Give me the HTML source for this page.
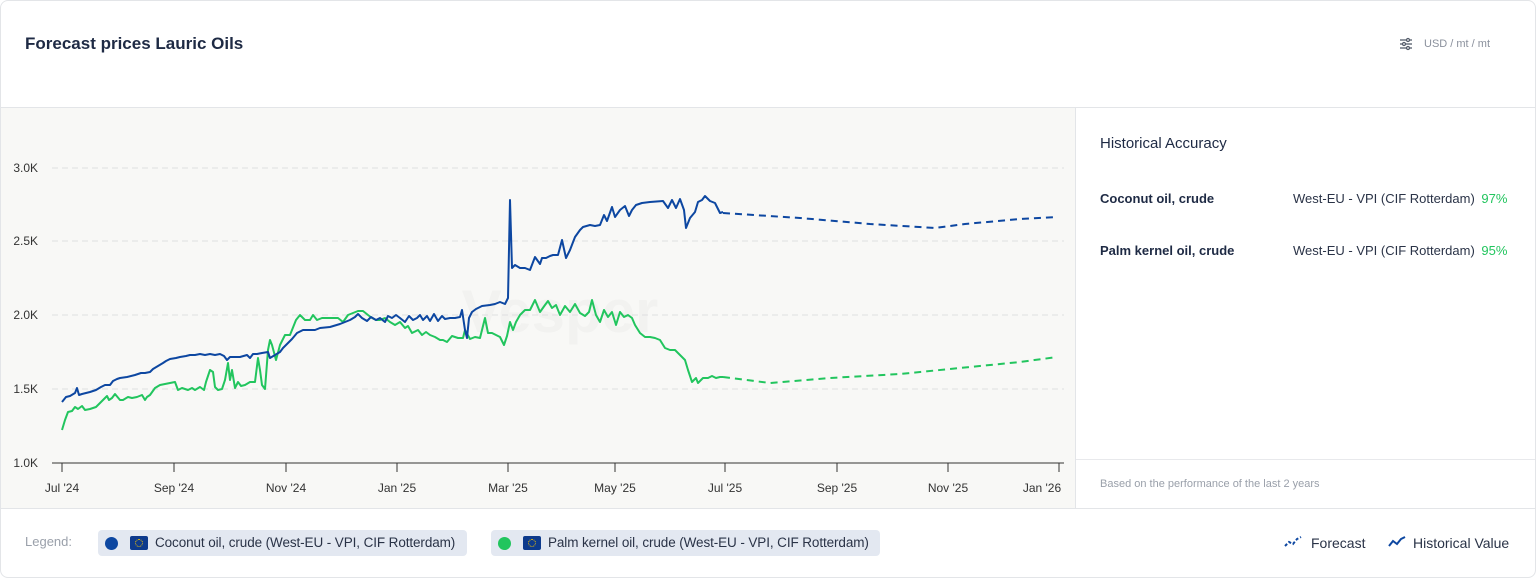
<!DOCTYPE html>
<html><head><meta charset="utf-8"><style>
*{margin:0;padding:0;box-sizing:border-box}
body{width:1536px;height:578px;background:#fff;font-family:"Liberation Sans",sans-serif;position:relative;overflow:hidden;color:#1e2a44}
.card{position:absolute;left:0;top:0;width:1536px;height:578px;border:1px solid #e3e5e8;border-radius:8px}
.t{position:absolute;white-space:nowrap}
</style></head><body>
<div class="card"></div>
<div class="t" style="left:25px;top:34px;font-size:17px;font-weight:bold;color:#1e2a44">Forecast prices Lauric Oils</div>
<svg class="t" style="left:1399px;top:37px" width="14" height="14" viewBox="0 0 14 14"><g stroke="#555d6b" stroke-width="1.3" fill="#fff"><line x1="1" y1="3" x2="13" y2="3"/><line x1="1" y1="7" x2="13" y2="7"/><line x1="1" y1="11" x2="13" y2="11"/><circle cx="9" cy="3" r="1.5"/><circle cx="5" cy="7" r="1.5"/><circle cx="9" cy="11" r="1.5"/></g></svg>
<div class="t" style="left:1424px;top:38px;font-size:11px;color:#8a909c">USD / mt / mt</div>
<div style="position:absolute;left:1px;top:107px;width:1534px;height:1px;background:#e3e5e8"></div>
<div style="position:absolute;left:1px;top:108px;width:1074px;height:400px;background:#f8f8f6"></div>
<div style="position:absolute;left:1075px;top:108px;width:1px;height:400px;background:#e3e5e8"></div>
<div style="position:absolute;left:1076px;top:459px;width:459px;height:1px;background:#e8e9ec"></div>
<div style="position:absolute;left:1px;top:508px;width:1534px;height:1px;background:#e3e5e8"></div>
<svg class="t" style="left:0;top:0" width="1076" height="508">
<text x="560" y="332" font-size="60" font-weight="bold" fill="#f2f2f0" font-family="Liberation Sans" text-anchor="middle">Vesper</text>
<g stroke="#dedfe0" stroke-dasharray="6,4" stroke-width="1">
<line x1="52" y1="168" x2="1064" y2="168"/><line x1="52" y1="241" x2="1064" y2="241"/><line x1="52" y1="315" x2="1064" y2="315"/><line x1="52" y1="389" x2="1064" y2="389"/></g>
<line x1="52" y1="463" x2="1064" y2="463" stroke="#333" stroke-width="1"/>
<g stroke="#333"><line x1="62" y1="463" x2="62" y2="472"/><line x1="174" y1="463" x2="174" y2="472"/><line x1="286" y1="463" x2="286" y2="472"/><line x1="397" y1="463" x2="397" y2="472"/><line x1="508" y1="463" x2="508" y2="472"/><line x1="615" y1="463" x2="615" y2="472"/><line x1="725" y1="463" x2="725" y2="472"/><line x1="837" y1="463" x2="837" y2="472"/><line x1="948" y1="463" x2="948" y2="472"/><line x1="1059" y1="463" x2="1059" y2="472"/></g>
<g font-size="12" fill="#333" font-family="Liberation Sans" text-anchor="end">
<text x="38" y="172">3.0K</text><text x="38" y="245">2.5K</text><text x="38" y="319">2.0K</text><text x="38" y="393">1.5K</text><text x="38" y="467">1.0K</text></g>
<g font-size="12" fill="#333" font-family="Liberation Sans" text-anchor="middle">
<text x="62" y="492">Jul '24</text><text x="174" y="492">Sep '24</text><text x="286" y="492">Nov '24</text><text x="397" y="492">Jan '25</text><text x="508" y="492">Mar '25</text><text x="615" y="492">May '25</text><text x="725" y="492">Jul '25</text><text x="837" y="492">Sep '25</text><text x="948" y="492">Nov '25</text><text x="1042" y="492">Jan '26</text></g>
<polyline fill="none" stroke="#22c55e" stroke-width="2" stroke-linejoin="round" points="62,430 65,420 68,412 72,411 75,407 78,409 82,406 85,410 90,409 96,407 100,403 104,399 107,396 109,400 112,398 115,394 120,400 123,400 128,397 132,398 137,397 142,395 145,400 147,397 150,395 155,388 160,385 165,384 170,383 175,382 178,390 182,388 188,390 192,388 195,390 200,387 204,390 206,382 210,370 213,372 215,387 218,390 222,389 225,380 228,363 230,380 232,370 235,388 238,382 241,386 245,385 250,382 255,382 258,358 260,370 262,385 265,389 268,350 270,340 272,345 276,360 280,345 285,335 290,335 296,320 300,315 305,320 310,320 313,315 317,320 322,318 330,318 338,318 343,322 348,315 353,313 358,311 363,311 368,315 372,318 376,320 380,320 385,318 390,322 395,325 400,322 405,328 408,326 412,333 418,330 422,335 426,332 430,335 435,337 440,340 443,340 447,342 452,336 458,338 463,338 465,330 470,339 475,337 480,338 485,318 488,333 492,333 496,335 500,337 504,345 507,336 510,322 513,330 516,322 520,315 525,310 530,310 535,300 540,312 545,305 548,301 552,308 556,305 560,315 565,306 570,312 575,304 580,313 585,316 589,312 592,300 596,315 600,322 604,310 608,317 612,312 616,325 620,312 624,317 628,315 632,318 635,325 640,333 645,337 650,337 655,338 660,340 665,348 670,350 675,350 680,355 685,360 688,370 692,382 696,378 698,383 703,378 708,378 712,376 716,378 720,377 723,377"/>
<polyline fill="none" stroke="#22c55e" stroke-width="2" stroke-dasharray="7,5" points="723,377 770,383 830,378 900,374 960,368 1020,362 1057,357"/>
<polyline fill="none" stroke="#0d47a1" stroke-width="2" stroke-linejoin="round" points="62,402 66,397 70,396 75,393 77,388 79,395 82,394 90,392 96,390 101,387 105,385 110,385 113,381 117,379 120,378 127,377 135,375 141,373 145,373 150,372 153,369 158,366 163,363 166,361 170,359 176,358 180,357 186,356 190,355 195,355 200,354 205,355 210,354 215,355 220,354 224,356 227,360 230,357 235,357 240,357 247,355 250,358 253,354 257,354 262,353 268,352 270,358 275,355 280,352 283,348 288,343 292,339 297,333 303,330 310,330 315,330 320,328 330,327 340,324 345,322 350,320 355,317 358,314 362,318 367,321 371,317 376,320 380,318 385,322 388,316 392,318 396,315 400,318 405,322 409,316 413,320 417,318 420,315 423,320 427,316 430,321 434,314 438,321 442,316 445,319 450,318 455,318 460,317 462,310 465,330 467,338 469,318 472,312 476,309 482,306 490,305 495,304 500,302 505,304 508,298 510,200 512,268 515,265 520,268 525,268 530,270 535,257 540,264 542,258 546,258 550,256 553,255 558,255 562,240 566,258 570,250 575,237 580,230 583,227 590,225 595,226 600,225 604,215 607,221 612,207 615,217 620,210 625,206 629,216 632,210 636,205 642,203 650,202 663,201 668,208 672,200 676,208 680,199 684,210 686,228 690,218 695,212 698,202 702,200 705,196 710,201 715,203 720,213 723,212"/>
<polyline fill="none" stroke="#0d47a1" stroke-width="2" stroke-dasharray="7,5" points="723,213 800,218 870,224 935,228 965,224 1020,219 1057,217"/>
</svg>
<div class="t" style="left:1100px;top:135px;font-size:15px;color:#1e2a44">Historical Accuracy</div>
<div class="t" style="left:1100px;top:191px;font-size:13px;font-weight:bold">Coconut oil, crude</div>
<div class="t" style="left:1293px;top:191px;font-size:13px;color:#2a3347">West-EU - VPI (CIF Rotterdam) <span style="color:#22c55e;margin-left:3px">97%</span></div>
<div class="t" style="left:1100px;top:243px;font-size:13px;font-weight:bold">Palm kernel oil, crude</div>
<div class="t" style="left:1293px;top:243px;font-size:13px;color:#2a3347">West-EU - VPI (CIF Rotterdam) <span style="color:#22c55e;margin-left:3px">95%</span></div>
<div class="t" style="left:1100px;top:478px;font-size:11px;color:#9aa0aa">Based on the performance of the last 2 years</div>
<div class="t" style="left:25px;top:534px;font-size:13px;color:#9aa0aa">Legend:</div>
<div class="t" style="left:98px;top:530px;width:369px;height:26px;background:#e3e8f1;border-radius:4px"></div>
<div class="t" style="left:105px;top:537px;width:13px;height:13px;border-radius:50%;background:#0d47a1"></div>
<div class="t" style="left:130px;top:536px;width:18px;height:14px;background:#0d3a8c;border-radius:2px"><div style="margin:3px 5px;width:8px;height:8px;border:1px dotted #f5c400;border-radius:50%"></div></div>
<div class="t" style="left:155px;top:535px;font-size:13.5px;letter-spacing:-0.1px;color:#2a3347">Coconut oil, crude (West-EU - VPI, CIF Rotterdam)</div>
<div class="t" style="left:491px;top:530px;width:389px;height:26px;background:#e3e8f1;border-radius:4px"></div>
<div class="t" style="left:498px;top:537px;width:13px;height:13px;border-radius:50%;background:#22c55e"></div>
<div class="t" style="left:523px;top:536px;width:18px;height:14px;background:#0d3a8c;border-radius:2px"><div style="margin:3px 5px;width:8px;height:8px;border:1px dotted #f5c400;border-radius:50%"></div></div>
<div class="t" style="left:548px;top:535px;font-size:13.5px;letter-spacing:-0.1px;color:#2a3347">Palm kernel oil, crude (West-EU - VPI, CIF Rotterdam)</div>
<svg class="t" style="left:1284px;top:536px" width="18" height="12"><polyline points="1,10 5,6 9,8 13,3 17,1" fill="none" stroke="#0d47a1" stroke-width="2" stroke-dasharray="3,2"/></svg>
<div class="t" style="left:1311px;top:535px;font-size:14px;color:#2a3347">Forecast</div>
<svg class="t" style="left:1388px;top:536px" width="18" height="12"><polyline points="1,10 5,5 9,8 13,3 17,1" fill="none" stroke="#0d47a1" stroke-width="2"/></svg>
<div class="t" style="left:1413px;top:535px;font-size:14px;color:#2a3347">Historical Value</div>
</body></html>
